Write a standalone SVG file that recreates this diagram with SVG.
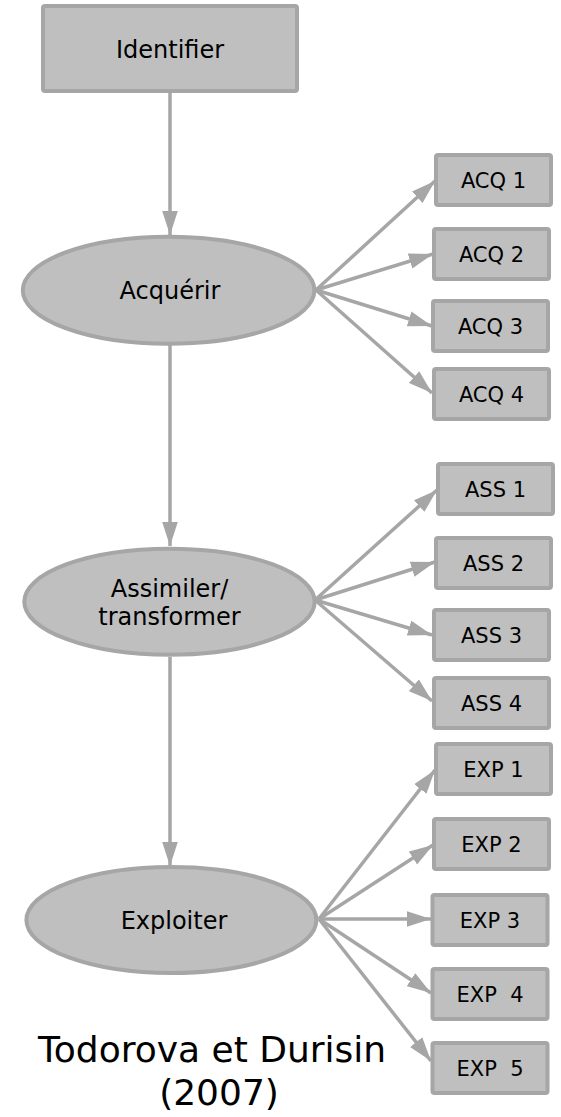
<svg xmlns="http://www.w3.org/2000/svg" width="561" height="1117" viewBox="0 0 561 1117">
<style>
  .box { fill: #bfbfbf; stroke: #a6a6a6; stroke-width: 4; }
  .ell { fill: #bfbfbf; stroke: #a6a6a6; stroke-width: 4; }
  .big { font-family: "DejaVu Sans", Verdana, sans-serif; font-size: 24px; fill: #000; text-anchor: middle; }
  .small { font-family: "DejaVu Sans", Verdana, sans-serif; font-size: 21px; fill: #000; text-anchor: middle; }
  .title { font-family: "DejaVu Sans", Verdana, sans-serif; font-size: 36px; fill: #000; text-anchor: middle; }
  .conn { stroke: #a6a6a6; stroke-width: 3.5; fill: none; marker-end: url(#arr); }
</style>
<defs>
  <marker id="arr" viewBox="0 0 24 16" markerWidth="24" markerHeight="16" refX="24" refY="8" orient="auto" markerUnits="userSpaceOnUse">
    <path d="M0,0.2 L24,8 L0,15.8 z" fill="#a6a6a6"/>
  </marker>
</defs>
<rect width="561" height="1117" fill="#ffffff"/>

<g id="connectors">
  <line class="conn" x1="170" y1="93" x2="170" y2="235"/>
  <line class="conn" x1="170" y1="345" x2="170" y2="546"/>
  <line class="conn" x1="170" y1="657" x2="170" y2="866"/>

  <line class="conn" x1="316" y1="290" x2="435" y2="181"/>
  <line class="conn" x1="316" y1="290" x2="433" y2="254"/>
  <line class="conn" x1="316" y1="290" x2="432" y2="326"/>
  <line class="conn" x1="316" y1="290" x2="432" y2="393"/>

  <line class="conn" x1="315" y1="600" x2="437" y2="490"/>
  <line class="conn" x1="315" y1="600" x2="435" y2="562"/>
  <line class="conn" x1="315" y1="600" x2="432" y2="635"/>
  <line class="conn" x1="315" y1="600" x2="432" y2="701"/>

  <line class="conn" x1="319" y1="919" x2="435" y2="770"/>
  <line class="conn" x1="319" y1="919" x2="433" y2="845"/>
  <line class="conn" x1="319" y1="919" x2="431" y2="919"/>
  <line class="conn" x1="319" y1="919" x2="431" y2="993"/>
  <line class="conn" x1="319" y1="919" x2="431" y2="1061"/>
</g>

<g id="identifier">
  <rect class="box" x="43" y="6" width="254" height="85" rx="2"/>
  <text class="big" x="170" y="57.5">Identifier</text>
</g>
<g id="acquerir">
  <ellipse class="ell" cx="168.6" cy="290.3" rx="145.8" ry="53.5"/>
  <text class="big" x="170" y="299">Acquérir</text>
</g>
<g id="assimiler">
  <ellipse class="ell" cx="169.5" cy="601.7" rx="145.2" ry="53"/>
  <text class="big" x="169.5" y="596.5">Assimiler/</text>
  <text class="big" x="169.5" y="625">transformer</text>
</g>
<g id="exploiter">
  <ellipse class="ell" cx="171.4" cy="920" rx="145" ry="53"/>
  <text class="big" x="174" y="929">Exploiter</text>
</g>

<g id="acq1"><rect class="box" x="436" y="155" width="115" height="50" rx="2"/><text class="small" x="493.5" y="188">ACQ 1</text></g>
<g id="acq2"><rect class="box" x="434" y="229" width="115" height="50" rx="2"/><text class="small" x="491.5" y="262">ACQ 2</text></g>
<g id="acq3"><rect class="box" x="433" y="301" width="115" height="50" rx="2"/><text class="small" x="490.5" y="334">ACQ 3</text></g>
<g id="acq4"><rect class="box" x="434" y="369" width="115" height="50" rx="2"/><text class="small" x="491.5" y="402">ACQ 4</text></g>

<g id="ass1"><rect class="box" x="438" y="464" width="115" height="50" rx="2"/><text class="small" x="495.5" y="497">ASS 1</text></g>
<g id="ass2"><rect class="box" x="436" y="538" width="115" height="50" rx="2"/><text class="small" x="493.5" y="571">ASS 2</text></g>
<g id="ass3"><rect class="box" x="434" y="610" width="115" height="50" rx="2"/><text class="small" x="491.5" y="643">ASS 3</text></g>
<g id="ass4"><rect class="box" x="434" y="678" width="115" height="50" rx="2"/><text class="small" x="491.5" y="711">ASS 4</text></g>

<g id="exp1"><rect class="box" x="436" y="744" width="115" height="50" rx="2"/><text class="small" x="493.5" y="777">EXP 1</text></g>
<g id="exp2"><rect class="box" x="434" y="819" width="115" height="50" rx="2"/><text class="small" x="491.5" y="852">EXP 2</text></g>
<g id="exp3"><rect class="box" x="432.5" y="895" width="115" height="50" rx="2"/><text class="small" x="490" y="928">EXP 3</text></g>
<g id="exp4"><rect class="box" x="432.5" y="969" width="115" height="50" rx="2"/><text class="small" x="490" y="1002" xml:space="preserve">EXP  4</text></g>
<g id="exp5"><rect class="box" x="432.5" y="1043" width="115" height="50" rx="2"/><text class="small" x="490" y="1076" xml:space="preserve">EXP  5</text></g>

<g id="caption">
  <text class="title" x="212" y="1062">Todorova et Durisin</text>
  <text class="title" x="219" y="1105">(2007)</text>
</g>
</svg>
